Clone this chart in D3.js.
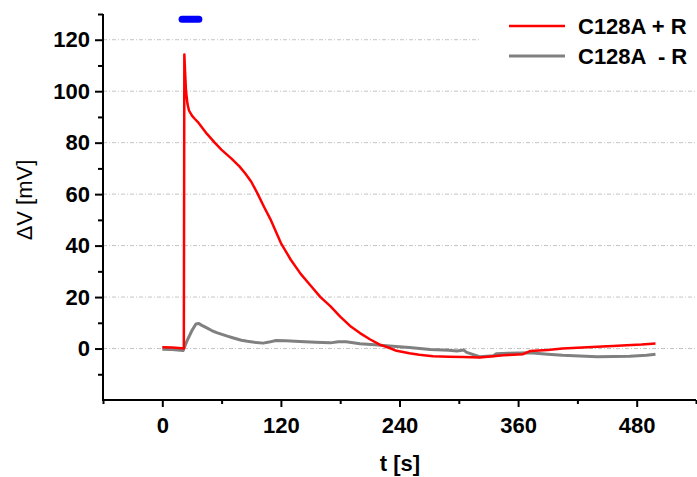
<!DOCTYPE html>
<html>
<head>
<meta charset="utf-8">
<script src="https://cdn.jsdelivr.net/npm/d3@7"></script>
<style>
  body { margin: 0; background: #fff; }
  svg text { font-family: "Liberation Sans", Arial, sans-serif; }
</style>
</head>
<body>
<div id="chart"></div>
<script>
// values
var redT = [0, 10, 20, 21.8, 22.3, 23, 24, 25.5, 27, 30, 33, 36, 40, 45, 53, 60, 70, 78, 84, 90, 96, 103, 110, 120, 130, 140, 150, 160, 170, 180, 190, 200, 210, 220, 230, 237, 250, 260, 274, 290, 305, 321, 335, 345, 365, 372, 390, 405, 420, 440, 456, 470, 485, 499];
var redV = [0.5, 0.4, 0.1, 0.0, 114.3, 108, 100, 95, 92.5, 90.5, 89.2, 88, 86, 83.5, 80, 77.2, 73.8, 70.8, 68, 64.8, 60.5, 55, 49.8, 41, 34.5, 29, 24.5, 20, 16.5, 12.4, 8.8, 6, 3.6, 1.5, 0.2, -0.9, -1.8, -2.4, -3, -3.2, -3.3, -3.5, -3.0, -2.6, -2.2, -1, -0.6, 0, 0.3, 0.7, 1.0, 1.3, 1.6, 2];

var greyT = [0, 10, 21, 25, 30, 34, 37, 40, 45, 50, 55, 65, 72, 80, 86, 95, 102, 108, 115, 125, 139, 155, 170, 178, 186, 200, 215, 230, 250, 271, 290, 298, 305, 308, 321, 335, 338, 350, 372, 390, 405, 440, 473, 490, 499];
var greyV = [-0.3, -0.4, -0.8, 3, 7, 9.5, 9.7, 9, 8, 7, 6.2, 4.9, 4.1, 3.2, 2.8, 2.3, 2.1, 2.5, 3.1, 3, 2.7, 2.4, 2.2, 2.6, 2.6, 1.9, 1.5, 1, 0.4, -0.4, -0.7, -1, -0.6, -1.5, -3.2, -2.8, -2, -1.8, -1.6, -2.2, -2.6, -3.2, -3, -2.6, -2.2];

var lightOn = [20, 37];
var lightLevel = 128;

var xMajor = [0, 120, 240, 360, 480];
var xMinor = [-60, 60, 180, 300, 420, 540];
var yMajor = [0, 20, 40, 60, 80, 100, 120];
var yMinor = [-10, 10, 30, 50, 70, 90, 110, 130];

var seriesNames = ["C128A + R", "C128A  - R"];
var seriesColors = ["#ff0000", "#808080"];

var svgWidth = 697;
var svgHeight = 477;

var svg = d3.select("#chart")
  .append("svg")
  .attr("width", svgWidth)
  .attr("height", svgHeight);

var x = d3.scaleLinear().domain([-60, 540]).range([103, 696]);
var y = d3.scaleLinear().domain([-20, 130]).range([400, 14]);

// grid lines
svg.append("g")
  .selectAll("line")
  .data(yMajor)
  .enter()
  .append("line")
  .attr("x1", x(-60))
  .attr("x2", x(540))
  .attr("y1", d => y(d))
  .attr("y2", d => y(d))
  .attr("stroke", "#c4c4c4")
  .attr("stroke-width", 1)
  .attr("stroke-dasharray", "4,2,1,2");

// legend background hides the grid behind it
svg.append("rect")
  .attr("x", 480)
  .attr("y", 8)
  .attr("width", 217)
  .attr("height", 64)
  .attr("fill", "#fff");

// traces
var line = d3.line()
  .x(d => x(d[0]))
  .y(d => y(d[1]));

var greyData = greyT.map((t, i) => [t, greyV[i]]);
var redData = redT.map((t, i) => [t, redV[i]]);

svg.append("path")
  .datum(greyData)
  .attr("d", line)
  .attr("fill", "none")
  .attr("stroke", seriesColors[1])
  .attr("stroke-width", 3)
  .attr("stroke-linejoin", "round");

svg.append("path")
  .datum(redData)
  .attr("d", line)
  .attr("fill", "none")
  .attr("stroke", seriesColors[0])
  .attr("stroke-width", 2.5)
  .attr("stroke-linejoin", "round");

// light stimulus bar
svg.append("line")
  .attr("x1", x(lightOn[0]))
  .attr("x2", x(lightOn[1]))
  .attr("y1", y(lightLevel))
  .attr("y2", y(lightLevel))
  .attr("stroke", "#0000ff")
  .attr("stroke-width", 7)
  .attr("stroke-linecap", "round");

// axes
var yAxisMinor = d3.axisLeft(y).tickValues(yMinor).tickSize(5).tickFormat("");
var yAxis = d3.axisLeft(y).tickValues(yMajor).tickSize(8).tickPadding(5);
var xAxisMinor = d3.axisBottom(x).tickValues(xMinor).tickSize(4).tickFormat("");
var xAxis = d3.axisBottom(x).tickValues(xMajor).tickSize(7).tickPadding(10);

function styleAxis(g) {
  g.select(".domain").remove();
  g.selectAll("line").attr("stroke", "#000").attr("stroke-width", 2);
  g.selectAll("text")
    .attr("fill", "#000")
    .style("font-size", "22px")
    .style("font-weight", "bold");
}

svg.append("g").attr("transform", "translate(103,0)").call(yAxisMinor).call(styleAxis);
svg.append("g").attr("transform", "translate(103,0)").call(yAxis).call(styleAxis);
svg.append("g").attr("transform", "translate(0,400)").call(xAxisMinor).call(styleAxis);
svg.append("g").attr("transform", "translate(0,400)").call(xAxis).call(styleAxis);

// axis lines
svg.append("line")
  .attr("x1", 103).attr("x2", 103)
  .attr("y1", y(130)).attr("y2", 401)
  .attr("stroke", "#000").attr("stroke-width", 2);
svg.append("line")
  .attr("x1", 102).attr("x2", x(540))
  .attr("y1", 400).attr("y2", 400)
  .attr("stroke", "#000").attr("stroke-width", 2);

// axis titles
svg.append("text")
  .attr("x", 400)
  .attr("y", 471)
  .attr("text-anchor", "middle")
  .style("font-size", "22px")
  .style("font-weight", "bold")
  .text("t [s]");

svg.append("text")
  .attr("transform", "translate(32,200) rotate(-90)")
  .attr("text-anchor", "middle")
  .style("font-size", "22px")
  .text("ΔV [mV]");

// legend
var legend = svg.append("g");
seriesNames.forEach(function(name, i) {
  var ly = 26 + i * 30;
  legend.append("line")
    .attr("x1", 509).attr("x2", 565)
    .attr("y1", ly).attr("y2", ly)
    .attr("stroke", seriesColors[i])
    .attr("stroke-width", i === 0 ? 2.5 : 3);
  legend.append("text")
    .attr("x", 578)
    .attr("y", ly + 8)
    .attr("xml:space", "preserve")
    .style("white-space", "pre")
    .style("font-size", "22px")
    .style("font-weight", "bold")
    .text(name);
});
</script>
</body>
</html>
